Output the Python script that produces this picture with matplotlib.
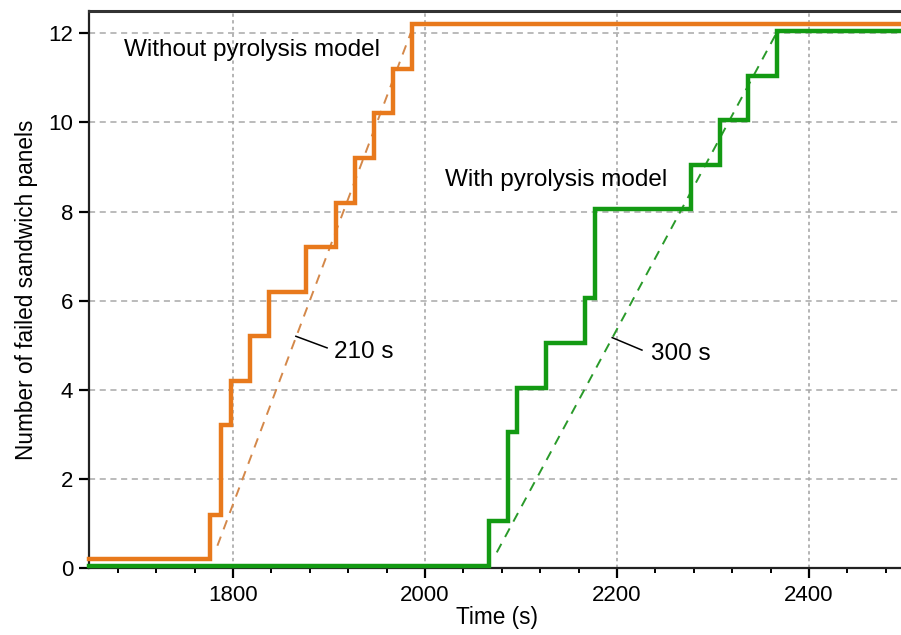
import matplotlib
matplotlib.use("Agg")
import matplotlib.pyplot as plt
from matplotlib.ticker import MultipleLocator

plt.rcParams['font.family'] = ['Liberation Sans', 'DejaVu Sans']

# ---- data ----
t_without = [1650, 1776.5, 1787, 1797.5, 1817.5, 1837, 1876.5, 1907.5, 1927.5, 1947, 1966.5, 1986.5, 2500]
n_without = [0, 1, 3, 4, 5, 6, 7, 8, 9, 10, 11, 12, 12]
t_with = [1650, 2066.5, 2086.5, 2096, 2126.5, 2166.5, 2177, 2277, 2307, 2336.5, 2366.5, 2500]
n_with = [0, 1, 3, 4, 5, 6, 8, 9, 10, 11, 12, 12]
fit_without = (1775, 210)   # start time, duration (s)
fit_with = (2066, 300)
n_total = 12
xticks = [1800, 2000, 2200, 2400]
yticks = [0, 2, 4, 6, 8, 10, 12]

orange = '#e8791c'
green = '#139a13'

fig = plt.figure(figsize=(9.01, 6.35), dpi=100)
ax = fig.add_axes([89/901, 1-568/635, (905-89)/901, (568-11)/635])

# grid
for x in xticks:
    ax.axvline(x, color='#a0a0a0', lw=1.1, ls=(0, (2.2, 2.2)), zorder=0)
for y in yticks[1:]:
    ax.axhline(y, color='#a8a8a8', lw=1.1, ls=(0, (4, 3)), zorder=0)

# fitted dashed lines
def fit_line(start, dur, y0, color):
    ys = [y0, n_total]
    xs = [start + y / n_total * dur for y in ys]
    ax.plot(xs, ys, color=color, lw=1.4, ls=(0, (5, 4)), zorder=2)

fit_line(*fit_without, 0.5, '#d4884a')
fit_line(*fit_with, 0.35, '#2a9a2a')

# step curves (small vertical offsets to keep them visible)
ax.step(t_without, [v + 0.2 for v in n_without], where='post', color=orange, lw=3.2,
        zorder=4, clip_on=False, solid_joinstyle='miter')
ax.step(t_with, [v + 0.05 for v in n_with], where='post', color=green, lw=3.2,
        zorder=4, clip_on=False, solid_joinstyle='miter')

fs_ann = 17.5
fs_tick = 16
fs_lab = 16.3
ax.text(1686, 11.63, 'Without pyrolysis model', fontsize=fs_ann, va='center', ha='left')
ax.text(2021, 8.7, 'With pyrolysis model', fontsize=fs_ann, va='center', ha='left')

ax.plot([1865.5, 1898], [5.2, 4.94], color='black', lw=1.1, zorder=5)
ax.text(1905, 4.85, '210 s', fontsize=fs_ann, va='center', ha='left')
ax.plot([2195, 2226], [5.17, 4.89], color='black', lw=1.1, zorder=5)
ax.text(2235, 4.8, '300 s', fontsize=fs_ann, va='center', ha='left')

ax.set_xlim(1650, 2500)
ax.set_ylim(0, 12.5)
ax.set_xticks(xticks)
ax.set_yticks(yticks)
ax.xaxis.set_minor_locator(MultipleLocator(40))
ax.tick_params(axis='x', which='major', length=7.5, width=1.6, direction='out', labelsize=fs_tick, pad=5)
ax.tick_params(axis='x', which='minor', length=3.5, width=1.4, direction='out')
ax.tick_params(axis='y', which='major', length=7.5, width=1.6, direction='out', labelsize=fs_tick, pad=4)

ax.set_xlabel('Time (s)', fontsize=fs_lab, labelpad=0)
ax.set_ylabel('Number of failed sandwich panels', fontsize=fs_lab, labelpad=7)

for s in ['left', 'bottom']:
    ax.spines[s].set_linewidth(1.6)
    ax.spines[s].set_color('#222222')
ax.spines['top'].set_linewidth(2.2)
ax.spines['top'].set_color('#333333')
ax.spines['right'].set_visible(False)

fig.savefig('out.png', dpi=100)
